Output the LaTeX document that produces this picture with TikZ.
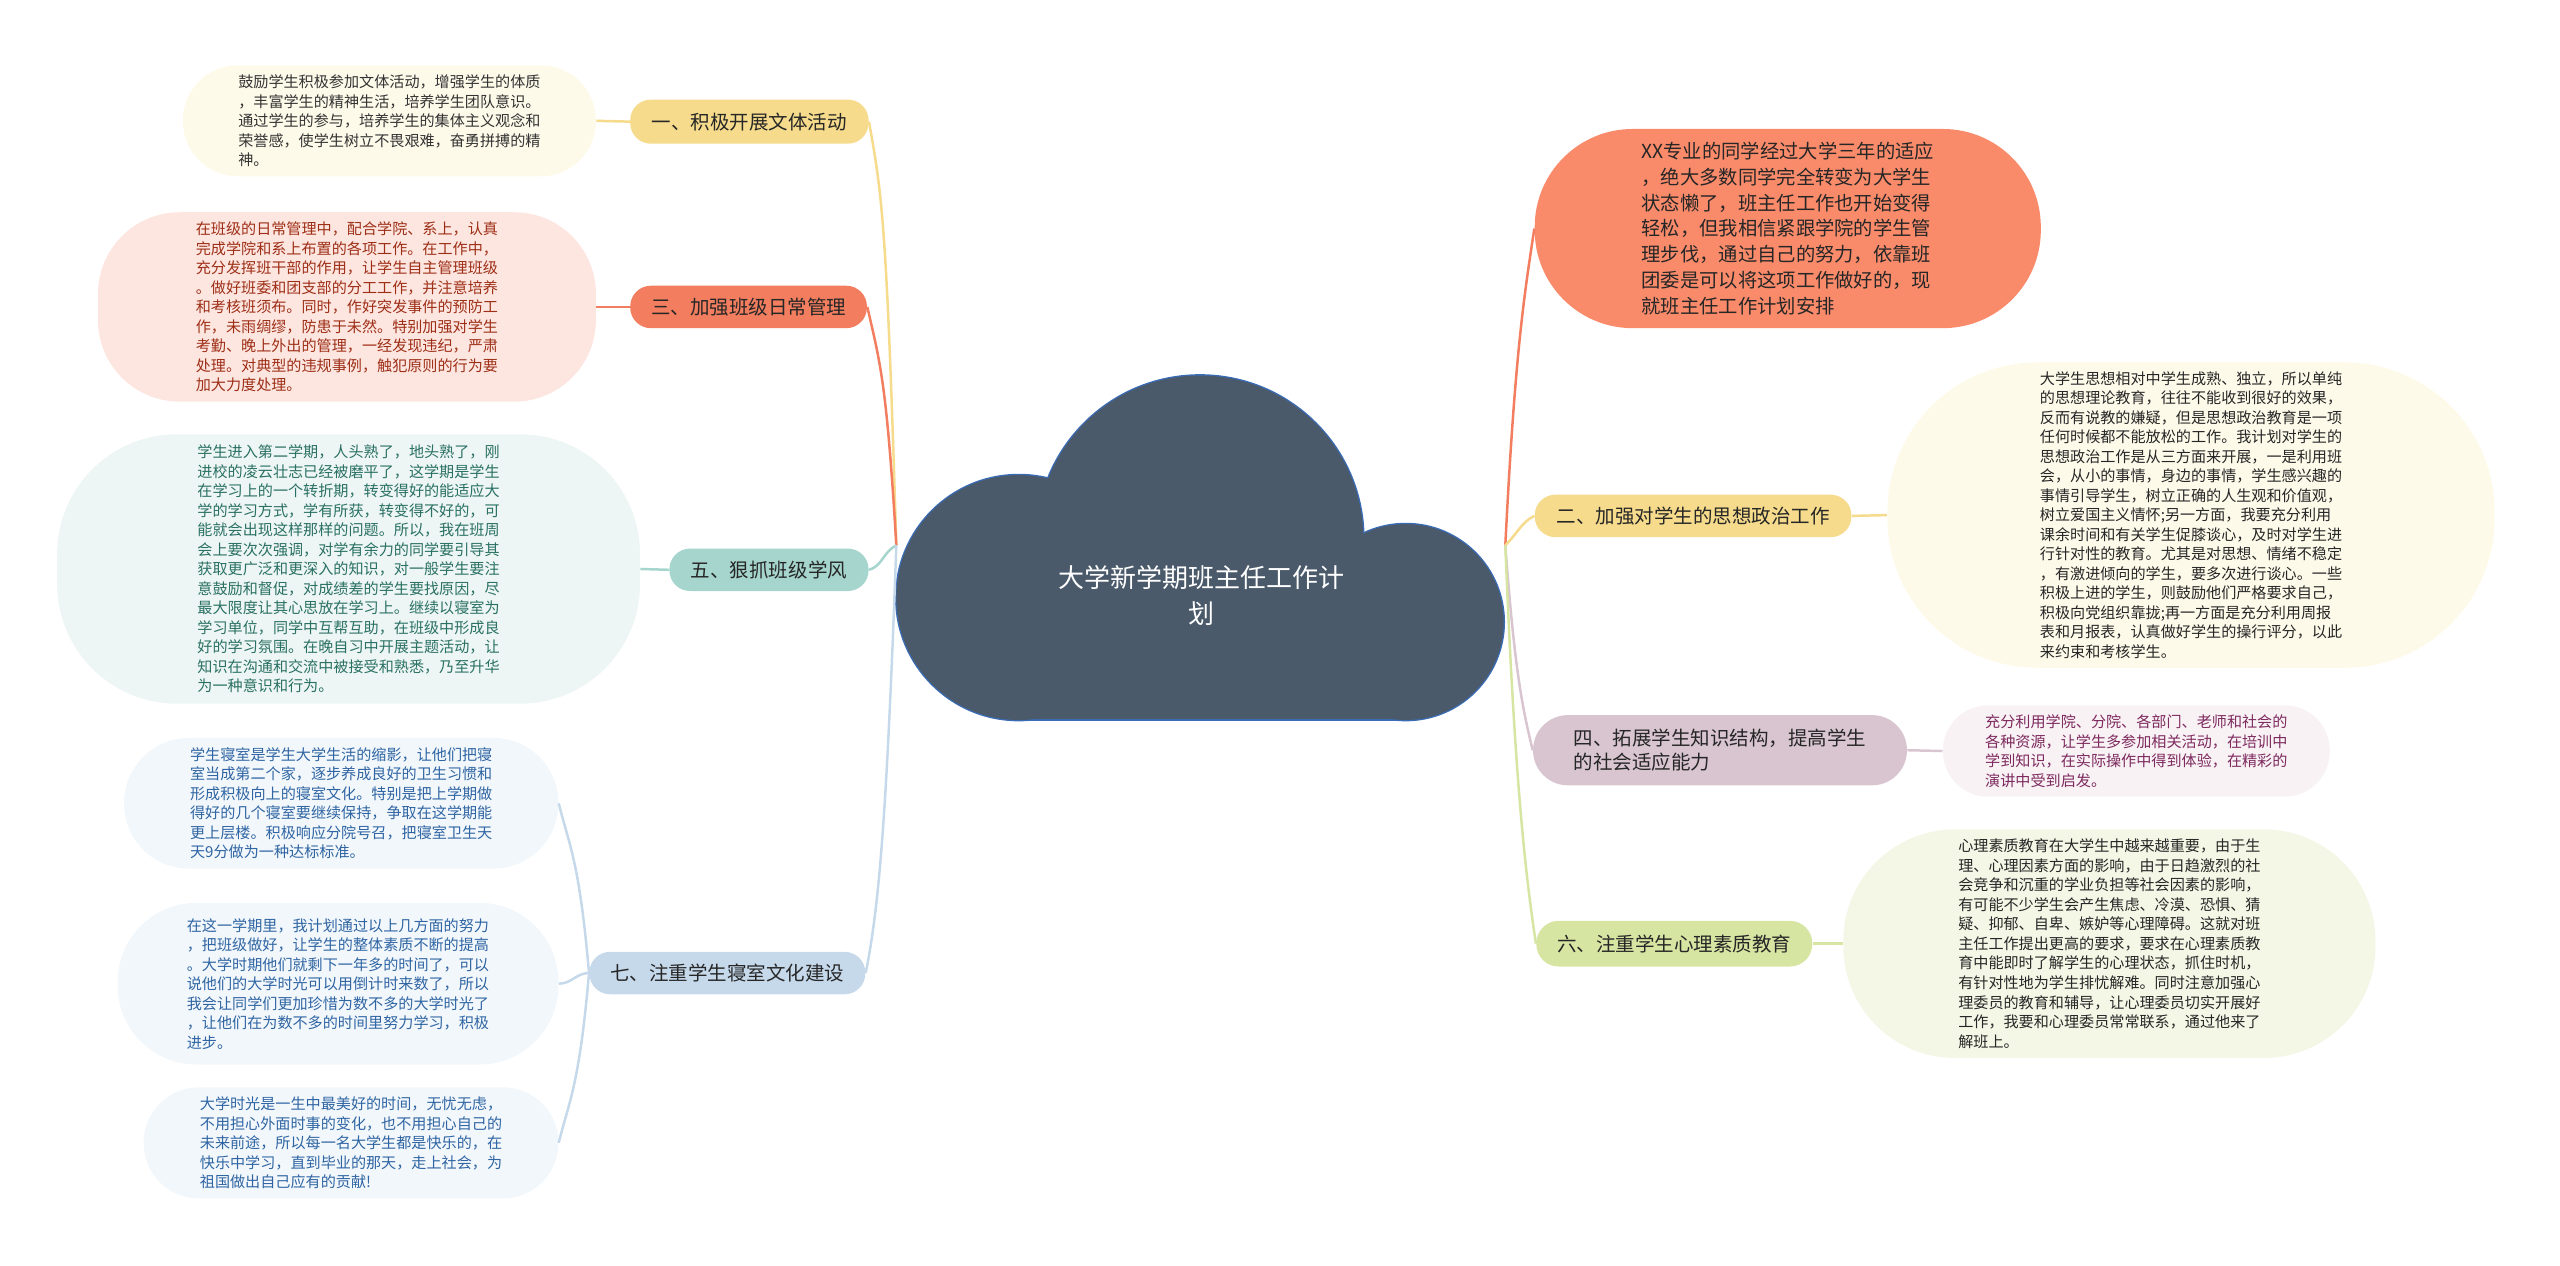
\documentclass[tikz,border=0pt]{standalone}
\usepackage{fontspec}
\setmainfont{Noto Sans CJK SC}
\usepackage{tikz}
\definecolor{yel}{HTML}{F5DB8B}
\definecolor{paleyel}{HTML}{FEFAEA}
\definecolor{org}{HTML}{F27E5F}
\definecolor{salmon}{HTML}{F98B6B}
\definecolor{palered}{HTML}{FDE6E0}
\definecolor{redtxt}{HTML}{9E2F17}
\definecolor{teal}{HTML}{A5D5CD}
\definecolor{paleteal}{HTML}{EDF6F4}
\definecolor{tealtxt}{HTML}{2A7064}
\definecolor{blu}{HTML}{C6D9EB}
\definecolor{paleblu}{HTML}{F2F7FB}
\definecolor{blutxt}{HTML}{2F65A3}
\definecolor{mauve}{HTML}{D8C5CF}
\definecolor{palemauve}{HTML}{F8F2F5}
\definecolor{mauvetxt}{HTML}{7E2A5E}
\definecolor{grn}{HTML}{D7E5A3}
\definecolor{palegrn}{HTML}{F4F7E6}
\definecolor{cloudfill}{HTML}{4A5A6A}
\definecolor{cloudedge}{HTML}{3A6CB5}
\tikzset{
  topic/.style={fill=#1,rounded corners=3.8mm,inner sep=0pt,align=left,text=black!85,font=\fontsize{10.2pt}{12.2pt}\selectfont},
  leaf/.style 2 args={fill=#1,text=#2,inner sep=0pt,align=left,font=\fontsize{7.9pt}{10.2pt}\selectfont},
  link/.style={draw=#1,line width=1.3pt},
  puff/.style={draw=cloudedge,line width=1.4pt,fill=cloudfill},
}

\begin{document}
\begin{tikzpicture}[x=0.3mm,y=0.3mm]
\useasboundingbox (0,0) rectangle (1568,-775);
\coordinate (jl) at (549,-334);
\coordinate (jr) at (922,-334);
\path[puff] (624,-366) circle[radius=75];
\path[puff] (735,-330) circle[radius=100];
\path[puff] (861,-381) circle[radius=60];
\path[puff] (624,-441) rectangle (861,-340);
\fill[cloudfill] (624,-366) circle[radius=75];
\fill[cloudfill] (735,-330) circle[radius=100];
\fill[cloudfill] (861,-381) circle[radius=60];
\fill[cloudfill] (624,-440) rectangle (861,-340);
\node[align=center,text=white,inner sep=0pt,font=\fontsize{13.6pt}{18.8pt}\selectfont] (root) at (736,-365) {大学新学期班主任工作计\\划};

\node[topic=yel,minimum width=43.8mm,minimum height=8.1mm] (yi) at (459,-74.5) {一、积极开展文体活动};
\node[leaf={paleyel}{black!80},minimum width=75.9mm,minimum height=20.4mm,rounded corners=10.1mm] (yitxt) at (238.5,-74) {鼓励学生积极参加文体活动，增强学生的体质\\，丰富学生的精神生活，培养学生团队意识。\\通过学生的参与，培养学生的集体主义观念和\\荣誉感，使学生树立不畏艰难，奋勇拼搏的精\\神。};
\node[topic=org,minimum width=43.5mm,minimum height=7.8mm] (san) at (458.5,-188) {三、加强班级日常管理};
\node[leaf={palered}{redtxt},minimum width=91.5mm,minimum height=34.8mm,rounded corners=15mm] (santxt) at (212.5,-188) {在班级的日常管理中，配合学院、系上，认真\\完成学院和系上布置的各项工作。在工作中，\\充分发挥班干部的作用，让学生自主管理班级\\。做好班委和团支部的分工工作，并注意培养\\和考核班须布。同时，作好突发事件的预防工\\作，未雨绸缪，防患于未然。特别加强对学生\\考勤、晚上外出的管理，一经发现违纪，严肃\\处理。对典型的违规事例，触犯原则的行为要\\加大力度处理。};
\node[topic=teal,minimum width=36.6mm,minimum height=7.8mm] (wu) at (471,-349) {五、狠抓班级学风};
\node[leaf={paleteal}{tealtxt},minimum width=107.1mm,minimum height=49.5mm,rounded corners=22mm] (wutxt) at (213.5,-348.5) {学生进入第二学期，人头熟了，地头熟了，刚\\进校的凌云壮志已经被磨平了，这学期是学生\\在学习上的一个转折期，转变得好的能适应大\\学的学习方式，学有所获，转变得不好的，可\\能就会出现这样那样的问题。所以，我在班周\\会上要次次强调，对学有余力的同学要引导其\\获取更广泛和更深入的知识，对一般学生要注\\意鼓励和督促，对成绩差的学生要找原因，尽\\最大限度让其心思放在学习上。继续以寝室为\\学习单位，同学中互帮互助，在班级中形成良\\好的学习氛围。在晚自习中开展主题活动，让\\知识在沟通和交流中被接受和熟悉，乃至升华\\为一种意识和行为。};
\node[topic=blu,minimum width=50.7mm,minimum height=7.8mm] (qi) at (445.5,-596) {七、注重学生寝室文化建设};
\node[leaf={paleblu}{blutxt},minimum width=79.8mm,minimum height=24mm,rounded corners=11.9mm] (qia) at (209,-492) {学生寝室是学生大学生活的缩影，让他们把寝\\室当成第二个家，逐步养成良好的卫生习惯和\\形成积极向上的寝室文化。特别是把上学期做\\得好的几个寝室要继续保持，争取在这学期能\\更上层楼。积极响应分院号召，把寝室卫生天\\天9分做为一种达标标准。};
\node[leaf={paleblu}{blutxt},minimum width=81mm,minimum height=29.7mm,rounded corners=14.5mm] (qib) at (207,-602.5) {在这一学期里，我计划通过以上几方面的努力\\，把班级做好，让学生的整体素质不断的提高\\。大学时期他们就剩下一年多的时间了，可以\\说他们的大学时光可以用倒计时来数了，所以\\我会让同学们更加珍惜为数不多的大学时光了\\，让他们在为数不多的时间里努力学习，积极\\进步。};
\node[leaf={paleblu}{blutxt},minimum width=76.2mm,minimum height=20.4mm,rounded corners=10.1mm] (qic) at (215,-700) {大学时光是一生中最美好的时间，无忧无虑，\\不用担心外面时事的变化，也不用担心自己的\\未来前途，所以每一名大学生都是快乐的，在\\快乐中学习，直到毕业的那天，走上社会，为\\祖国做出自己应有的贡献!};

\node[leaf={salmon}{black!85},font=\fontsize{10.1pt}{13.5pt}\selectfont,minimum width=93mm,minimum height=36.6mm,rounded corners=18mm] (intro) at (1095,-140) {XX专业的同学经过大学三年的适应\\，绝大多数同学完全转变为大学生\\状态懒了，班主任工作也开始变得\\轻松，但我相信紧跟学院的学生管\\理步伐，通过自己的努力，依靠班\\团委是可以将这项工作做好的，现\\就班主任工作计划安排};
\node[topic=yel,minimum width=58.2mm,minimum height=7.8mm] (er) at (1037,-316) {二、加强对学生的思想政治工作};
\node[leaf={paleyel}{black!85},minimum width=111.6mm,minimum height=56.1mm,rounded corners=27.5mm] (ertxt) at (1342,-315.5) {大学生思想相对中学生成熟、独立，所以单纯\\的思想理论教育，往往不能收到很好的效果，\\反而有说教的嫌疑，但是思想政治教育是一项\\任何时候都不能放松的工作。我计划对学生的\\思想政治工作是从三方面来开展，一是利用班\\会，从小的事情，身边的事情，学生感兴趣的\\事情引导学生，树立正确的人生观和价值观，\\树立爱国主义情怀;另一方面，我要充分利用\\课余时间和有关学生促膝谈心，及时对学生进\\行针对性的教育。尤其是对思想、情绪不稳定\\，有激进倾向的学生，要多次进行谈心。一些\\积极上进的学生，则鼓励他们严格要求自己，\\积极向党组织靠拢;再一方面是充分利用周报\\表和月报表，认真做好学生的操行评分，以此\\来约束和考核学生。};
\node[topic=mauve,minimum width=68.7mm,minimum height=12.9mm,rounded corners=6.4mm] (si) at (1053.5,-459.5) {四、拓展学生知识结构，提高学生\\的社会适应能力};
\node[leaf={palemauve}{mauvetxt},minimum width=71.1mm,minimum height=16.8mm,rounded corners=8.3mm] (sitxt) at (1308.5,-460) {充分利用学院、分院、各部门、老师和社会的\\各种资源，让学生多参加相关活动，在培训中\\学到知识，在实际操作中得到体验，在精彩的\\演讲中受到启发。};
\node[topic=grn,minimum width=50.7mm,minimum height=8.4mm,rounded corners=4.1mm] (liu) at (1025.5,-578) {六、注重学生心理素质教育};
\node[leaf={palegrn}{black!85},minimum width=97.8mm,minimum height=42mm,rounded corners=20.5mm] (liutxt) at (1292,-578) {心理素质教育在大学生中越来越重要，由于生\\理、心理因素方面的影响，由于日趋激烈的社\\会竞争和沉重的学业负担等社会因素的影响，\\有可能不少学生会产生焦虑、冷漠、恐惧、猜\\疑、抑郁、自卑、嫉妒等心理障碍。这就对班\\主任工作提出更高的要求，要求在心理素质教\\育中能即时了解学生的心理状态，抓住时机，\\有针对性地为学生排忧解难。同时注意加强心\\理委员的教育和辅导，让心理委员切实开展好\\工作，我要和心理委员常常联系，通过他来了\\解班上。};

\draw[link=yel] (jl) .. controls +(-6,200) and +(8,-45) .. (yi.east);
\draw[link=org] (jl) .. controls +(-6,100) and +(8,-35) .. (san.east);
\draw[link=teal] (jl) .. controls +(-8,-4) and +(8,2) .. (wu.east);
\draw[link=blu] (jl) .. controls +(-6,-170) and +(8,40) .. (qi.east);
\draw[link=org] (jr) .. controls +(6,120) and +(-6,-40) .. (intro.west);
\draw[link=yel] (jr) .. controls +(8,8) and +(-8,-4) .. (er.west);
\draw[link=mauve] (jr) .. controls +(6,-80) and +(-6,25) .. (si.west);
\draw[link=grn] (jr) .. controls +(6,-150) and +(-6,40) .. (liu.west);
\draw[link=blu] (qi.west) .. controls +(-6,70) and +(6,-25) .. (qia.east);
\draw[link=blu] (qi.west) .. controls +(-8,0) and +(8,0) .. (qib.east);
\draw[link=blu] (qi.west) .. controls +(-6,-70) and +(6,25) .. (qic.east);
\draw[link=yel] (yi.west) -- (yitxt.east);
\draw[link=org] (san.west) -- (santxt.east);
\draw[link=teal] (wu.west) -- (wutxt.east);
\draw[link=yel] (er.east) -- (ertxt.west);
\draw[link=mauve] (si.east) -- (sitxt.west);
\draw[link=grn] (liu.east) -- (liutxt.west);
\end{tikzpicture}
\end{document}
